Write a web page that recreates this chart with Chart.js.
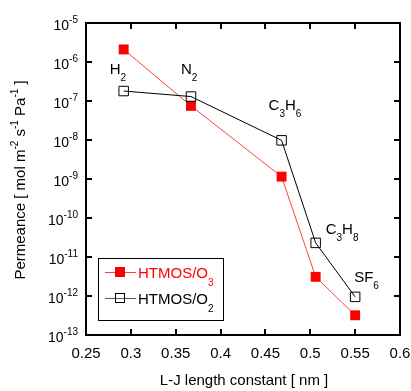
<!DOCTYPE html>
<html>
<head>
<meta charset="utf-8">
<script src="https://cdn.jsdelivr.net/npm/chart.js@4.4.0/dist/chart.umd.min.js"></script>
<style>
  body { margin: 0; background: #fff; }
  #wrap { width: 411px; height: 391px; position: relative; }
</style>
</head>
<body>
<div id="wrap"><canvas id="permChart"></canvas></div>
<script>
// gases and their L-J length constant [nm]
const gases = [['H', '2'], ['N', '2'], ['C', '3', 'H', '6'], ['C', '3', 'H', '8'], ['SF', '6']];
const ljLength = [0.292, 0.367, 0.468, 0.506, 0.550];
// permeance [mol m-2 s-1 Pa-1]
const permO3 = [2.1e-6, 7.5e-8, 1.15e-9, 3.1e-12, 3.2e-13];
const permO2 = [1.8e-7, 1.3e-7, 9.8e-9, 2.3e-11, 9.5e-13];
const xTicks = [0.25, 0.3, 0.35, 0.4, 0.45, 0.5, 0.55, 0.6];
const yTickExps = [-5, -6, -7, -8, -9, -10, -11, -12, -13];

const FONT = '"Liberation Sans", Arial, sans-serif';
const RED = '#ff0000';

// label offsets from the HTMOS/O2 point (pixels)
const labelOffsets = [[-14, -17], [-10, -23], [-13, -30], [10, -9], [-1, -15]];

function font(size) { return size + 'px ' + FONT; }

// segs: [text, kind] kind: '' normal, '^' superscript, '_' subscript
function richWidth(ctx, segs, size, small) {
  let w = 0;
  segs.forEach(s => {
    ctx.font = font(s[1] ? small : size);
    w += ctx.measureText(s[0]).width;
  });
  return w;
}

function drawRich(ctx, segs, x, y, o) {
  const size = o.size, small = o.small || 10;
  let w = richWidth(ctx, segs, size, small);
  let cx = x;
  if (o.align === 'right') cx = x - w;
  else if (o.align === 'center') cx = x - w / 2;
  ctx.textAlign = 'left';
  ctx.textBaseline = 'alphabetic';
  ctx.fillStyle = o.color || '#000';
  segs.forEach(s => {
    ctx.font = font(s[1] ? small : size);
    let dy = 0;
    if (s[1] === '^') dy = -(o.rise || 8);
    if (s[1] === '_') dy = (o.drop || 7);
    ctx.fillText(s[0], cx, y + dy);
    cx += ctx.measureText(s[0]).width;
  });
}

function drawMarker(ctx, x, y, filled, color) {
  const h = 5;
  if (filled) {
    ctx.fillStyle = color;
    ctx.fillRect(x - h, y - h, 2 * h, 2 * h);
  } else {
    ctx.strokeStyle = color;
    ctx.lineWidth = 1;
    ctx.strokeRect(x - h + 0.5, y - h + 0.5, 2 * h - 1, 2 * h - 1);
  }
}

const decorPlugin = {
  id: 'decor',
  afterDraw(chart) {
    const ctx = chart.ctx;
    const a = chart.chartArea;
    const xs = chart.scales.x, ys = chart.scales.y;
    ctx.save();

    // frame
    ctx.strokeStyle = '#000';
    ctx.lineWidth = 2;
    ctx.strokeRect(a.left, a.top, a.right - a.left, a.bottom - a.top);

    // ticks, inward
    const tl = 6;
    ctx.beginPath();
    xTicks.forEach(v => {
      const px = Math.round(xs.getPixelForValue(v));
      ctx.moveTo(px, a.bottom); ctx.lineTo(px, a.bottom - tl);
      ctx.moveTo(px, a.top); ctx.lineTo(px, a.top + tl);
    });
    yTickExps.forEach(e => {
      const py = Math.round(ys.getPixelForValue(Math.pow(10, e)));
      ctx.moveTo(a.left, py); ctx.lineTo(a.left + tl, py);
      ctx.moveTo(a.right, py); ctx.lineTo(a.right - tl, py);
    });
    ctx.stroke();

    // tick labels
    xTicks.forEach(v => {
      const px = xs.getPixelForValue(v);
      drawRich(ctx, [[String(v), '']], px, 358, { size: 15, align: 'center' });
    });
    yTickExps.forEach(e => {
      const py = ys.getPixelForValue(Math.pow(10, e));
      drawRich(ctx, [['10', ''], [String(e), '^']], 78, py + 7, { size: 14, small: 10, rise: 7, align: 'right' });
    });

    // axis titles
    drawRich(ctx, [['L-J length constant [ nm ]', '']], 244, 385, { size: 15, align: 'center' });
    ctx.save();
    ctx.translate(25, 180);
    ctx.rotate(-Math.PI / 2);
    drawRich(ctx, [['Permeance [ mol m', ''], ['-2', '^'], [' s', ''], ['-1', '^'], [' Pa', ''], ['-1', '^'], [' ]', '']],
      0, 0, { size: 15, small: 10, rise: 7, align: 'center' });
    ctx.restore();

    // gas labels
    gases.forEach((g, i) => {
      const px = xs.getPixelForValue(ljLength[i]) + labelOffsets[i][0];
      const py = ys.getPixelForValue(permO2[i]) + labelOffsets[i][1];
      const segs = g.map((t, k) => [t, k % 2 ? '_' : '']);
      drawRich(ctx, segs, px, py, { size: 15, small: 10, drop: 7 });
    });

    // legend
    const lx = 98, ly = 258, lw = 125, lh = 62;
    ctx.strokeStyle = '#000';
    ctx.lineWidth = 1;
    ctx.strokeRect(lx + 0.5, ly + 0.5, lw, lh);
    const rows = [
      { y: 272, color: RED, line: '#ff4040', filled: true, text: [['HTMOS/O', ''], ['3', '_']] },
      { y: 298, color: '#000', line: '#555', filled: false, text: [['HTMOS/O', ''], ['2', '_']] }
    ];
    rows.forEach(r => {
      ctx.strokeStyle = r.line;
      ctx.lineWidth = 1;
      ctx.beginPath();
      ctx.moveTo(105, r.y + 0.5); ctx.lineTo(136, r.y + 0.5);
      ctx.stroke();
      drawMarker(ctx, 120, r.y, r.filled, r.color);
      drawRich(ctx, r.text, 138, r.y + 6, { size: 15, small: 10, drop: 8, color: r.color });
    });

    ctx.restore();
  }
};

const ctx = document.getElementById('permChart').getContext('2d');
const toPoints = ys => ljLength.map((x, i) => ({ x: x, y: ys[i] }));

new Chart(ctx, {
  type: 'scatter',
  data: {
    datasets: [
      {
        label: 'HTMOS/O2',
        data: toPoints(permO2),
        showLine: true,
        borderColor: '#000',
        borderWidth: 1,
        backgroundColor: 'rgba(0,0,0,0)',
        pointStyle: 'rect',
        pointRadius: 6.7,
        pointBorderWidth: 1,
        pointBorderColor: '#000',
        pointBackgroundColor: 'rgba(0,0,0,0)',
        order: 0
      },
      {
        label: 'HTMOS/O3',
        data: toPoints(permO3),
        showLine: true,
        borderColor: '#ff4040',
        borderWidth: 1,
        backgroundColor: RED,
        pointStyle: 'rect',
        pointRadius: 7,
        pointBorderWidth: 0,
        pointBackgroundColor: RED,
        order: 1
      }
    ]
  },
  options: {
    responsive: true,
    maintainAspectRatio: false,
    animation: false,
    layout: { padding: { left: 86, right: 11, top: 23, bottom: 56 } },
    plugins: { legend: { display: false }, tooltip: { enabled: false } },
    scales: {
      x: { type: 'linear', min: 0.25, max: 0.6, display: false },
      y: { type: 'logarithmic', min: 1e-13, max: 1e-5, display: false }
    }
  },
  plugins: [decorPlugin]
});
</script>
</body>
</html>
